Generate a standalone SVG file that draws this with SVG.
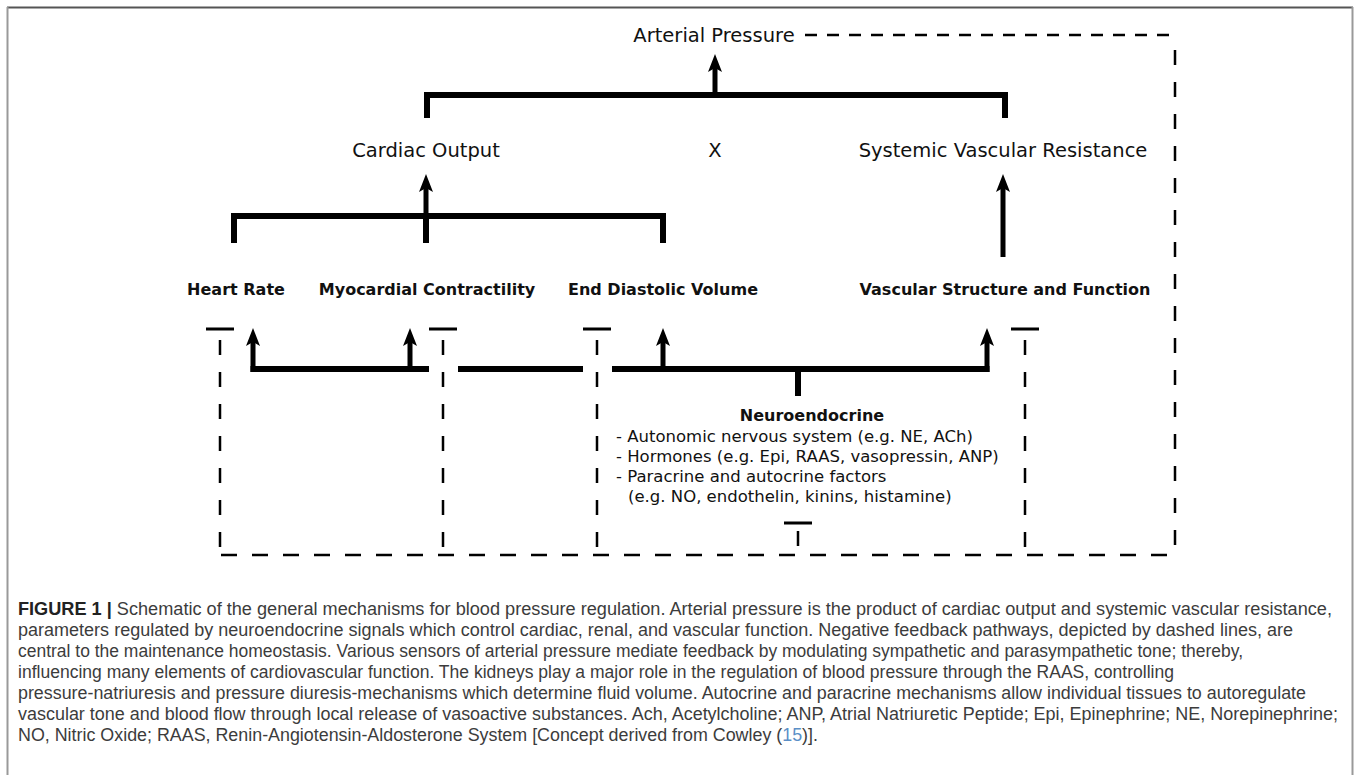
<svg xmlns="http://www.w3.org/2000/svg" width="1358" height="775" viewBox="0 0 1358 775">
<defs>
<marker id="ah" viewBox="0 0 18 14" refX="7" refY="7" markerWidth="18" markerHeight="14" markerUnits="userSpaceOnUse" orient="auto">
<path d="M0,0 L18,7 L0,14 L4,7 z" fill="#000"/>
</marker>
<style>
.reg{font-family:"DejaVu Sans","Liberation Sans",sans-serif;font-size:19.5px;fill:#111;text-anchor:middle}
.lbl{font-family:"DejaVu Sans","Liberation Sans",sans-serif;font-size:16px;font-weight:bold;fill:#111;text-anchor:middle}
.lst{font-family:"DejaVu Sans","Liberation Sans",sans-serif;font-size:16.5px;fill:#111}
.cap{font-family:"Liberation Sans",Arial,sans-serif;font-size:17.5px;fill:#3c3c3c}
.thick{fill:none;stroke:#000;stroke-width:6;stroke-linejoin:miter;stroke-linecap:butt}
.shaft{fill:none;stroke:#000;stroke-width:5;marker-end:url(#ah)}
.inh{fill:none;stroke:#000;stroke-width:3}
.dashv{fill:none;stroke:#000;stroke-width:2.5;stroke-dasharray:15 17}
.dasht{fill:none;stroke:#000;stroke-width:2.5;stroke-dasharray:12 10}
.dashb{fill:none;stroke:#000;stroke-width:2.5;stroke-dasharray:16 15}
</style>
</defs>
<rect width="1358" height="775" fill="#fff"/>
<g id="frame">
<line x1="7" y1="7.5" x2="1353" y2="7.5" stroke="#555" stroke-width="2"/>
<line x1="7.5" y1="7" x2="7.5" y2="775" stroke="#999" stroke-width="2"/>
<line x1="1352.5" y1="7" x2="1352.5" y2="775" stroke="#999" stroke-width="2"/>
</g>
<g id="n-arterial"><text class="reg" x="714" y="42">Arterial Pressure</text></g>
<g id="n-cardiac"><text class="reg" x="426" y="157">Cardiac Output</text></g>
<g id="n-x"><text class="reg" x="715" y="157">X</text></g>
<g id="n-svr"><text class="reg" x="1003" y="157">Systemic Vascular Resistance</text></g>
<g id="n-hr"><text class="lbl" x="236" y="295">Heart Rate</text></g>
<g id="n-mc"><text class="lbl" x="427" y="295">Myocardial Contractility</text></g>
<g id="n-edv"><text class="lbl" x="663" y="295">End Diastolic Volume</text></g>
<g id="n-vsf"><text class="lbl" x="1005" y="295">Vascular Structure and Function</text></g>
<g id="n-neuro">
<text class="lbl" x="812" y="421">Neuroendocrine</text>
<text class="lst" x="616" y="442">- Autonomic nervous system (e.g. NE, ACh)</text>
<text class="lst" x="616" y="462">- Hormones (e.g. Epi, RAAS, vasopressin, ANP)</text>
<text class="lst" x="616" y="482">- Paracrine and autocrine factors</text>
<text class="lst" x="628" y="502">(e.g. NO, endothelin, kinins, histamine)</text>
</g>
<g id="connectors">
<path class="thick" d="M427,118 V95 H1005 V118"/>
<line class="shaft" x1="715" y1="95" x2="715" y2="65"/>
<path class="thick" d="M234,243 V216 H663 V243 M426,216 V243"/>
<line class="shaft" x1="426" y1="216" x2="426" y2="185"/>
<line class="shaft" x1="1003" y1="257" x2="1003" y2="185"/>
<path class="thick" d="M250.5,369 H429 M458,369 H583 M612,369 H989.5 M798,369 V396"/>
<line class="shaft" x1="253" y1="372" x2="253" y2="339"/>
<line class="shaft" x1="410" y1="369" x2="410" y2="339"/>
<line class="shaft" x1="663" y1="369" x2="663" y2="339"/>
<line class="shaft" x1="987" y1="372" x2="987" y2="339"/>
<path class="inh" d="M206,329 H234 M429,329 H457 M583,329 H611 M1011,329 H1039 M784,523 H812"/>
<path class="dashv" d="M220,340 V555 M443,340 V555 M597,340 V555 M1025,340 V555 M798,531 V546"/>
<path class="dashv" d="M1175,50 V555"/>
<path class="dasht" d="M805,35 H1176"/>
<path class="dashb" d="M221,555 H1176"/>
</g>
<g id="caption">
<text class="cap" x="18" y="615" textLength="1314" lengthAdjust="spacingAndGlyphs"><tspan font-weight="bold" fill="#222">FIGURE 1 | </tspan>Schematic of the general mechanisms for blood pressure regulation. Arterial pressure is the product of cardiac output and systemic vascular resistance,</text>
<text class="cap" x="18" y="636" textLength="1275" lengthAdjust="spacingAndGlyphs">parameters regulated by neuroendocrine signals which control cardiac, renal, and vascular function. Negative feedback pathways, depicted by dashed lines, are</text>
<text class="cap" x="18" y="657" textLength="1225" lengthAdjust="spacingAndGlyphs">central to the maintenance homeostasis. Various sensors of arterial pressure mediate feedback by modulating sympathetic and parasympathetic tone; thereby,</text>
<text class="cap" x="18" y="678" textLength="1156" lengthAdjust="spacingAndGlyphs">influencing many elements of cardiovascular function. The kidneys play a major role in the regulation of blood pressure through the RAAS, controlling</text>
<text class="cap" x="18" y="699" textLength="1288" lengthAdjust="spacingAndGlyphs">pressure-natriuresis and pressure diuresis-mechanisms which determine fluid volume. Autocrine and paracrine mechanisms allow individual tissues to autoregulate</text>
<text class="cap" x="18" y="720" textLength="1320" lengthAdjust="spacingAndGlyphs">vascular tone and blood flow through local release of vasoactive substances. Ach, Acetylcholine; ANP, Atrial Natriuretic Peptide; Epi, Epinephrine; NE, Norepinephrine;</text>
<text class="cap" x="18" y="741" textLength="800" lengthAdjust="spacingAndGlyphs">NO, Nitric Oxide; RAAS, Renin-Angiotensin-Aldosterone System [Concept derived from Cowley (<tspan fill="#5b8fc7">15</tspan>)].</text>
</g>
</svg>
